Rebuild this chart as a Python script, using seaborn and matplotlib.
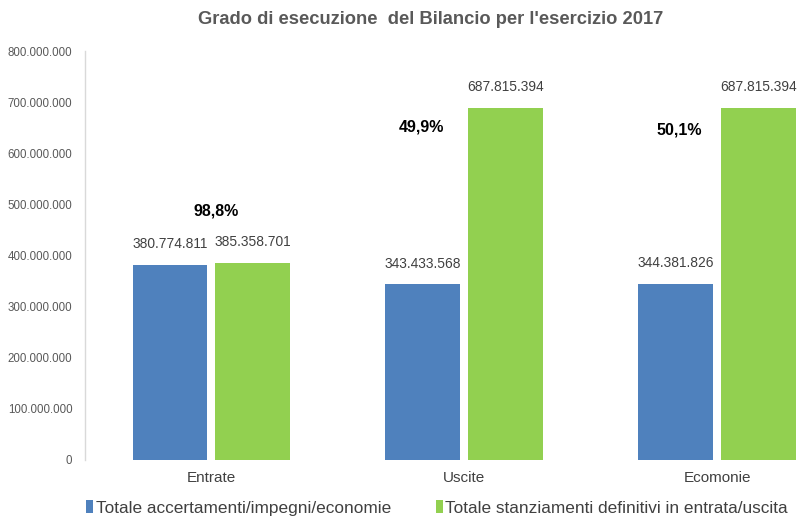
import matplotlib
matplotlib.use("Agg")
import matplotlib.pyplot as plt
import seaborn as sns
import pandas as pd

categories = ["Entrate", "Uscite", "Ecomonie"]
series_names = ["Totale accertamenti/impegni/economie",
                "Totale stanziamenti definitivi in entrata/uscita"]
accertati = [380774811, 343433568, 344381826]
stanziati = [385358701, 687815394, 687815394]
percent_labels = ["98,8%", "49,9%", "50,1%"]
percent_y = [487e6, 652e6, 646e6]
yticks = [0, 100e6, 200e6, 300e6, 400e6, 500e6, 600e6, 700e6, 800e6]
ytick_labels = ["0", "100.000.000", "200.000.000", "300.000.000", "400.000.000",
                "500.000.000", "600.000.000", "700.000.000", "800.000.000"]

df = pd.DataFrame({
    "cat": categories * 2,
    "serie": [series_names[0]] * 3 + [series_names[1]] * 3,
    "val": accertati + stanziati,
})

sns.set_theme(style="white")
plt.rcParams["font.family"] = ["Liberation Sans", "DejaVu Sans"]

fig = plt.figure(figsize=(7.98, 5.17), dpi=100)
ax = fig.add_axes([85 / 798, 1 - 460 / 517, 1 - 85 / 798, (460 - 51) / 517])

colors = ["#4F81BD", "#92D050"]
sns.barplot(data=df, x="cat", y="val", hue="serie", order=categories,
            hue_order=series_names, palette=colors, width=0.655, gap=0.095,
            saturation=1, ax=ax, legend=False, linewidth=0, edgecolor="none")

ax.set_ylim(0, 800e6)
ax.set_xlim(-0.5, 2.32)
ax.set_yticks(yticks)
ax.set_yticklabels(ytick_labels, fontsize=8.3, color="#595959")
ax.tick_params(axis="y", length=0, pad=9)
ax.tick_params(axis="x", length=0, pad=8)
ax.set_xticks(range(len(categories)))
ax.set_xticklabels(categories, fontsize=11, color="#404040")
ax.set_xlabel("")
ax.set_ylabel("")
for s in ["top", "right", "bottom"]:
    ax.spines[s].set_visible(False)
ax.spines["left"].set_color("#d9d9d9")
ax.spines["left"].set_linewidth(1)

for cont in ax.containers:
    for bar in cont:
        h = bar.get_height()
        s = f"{int(round(h)):,}".replace(",", ".")
        ax.annotate(s, (bar.get_x() + bar.get_width() / 2, h),
                    xytext=(0, 10), textcoords="offset points",
                    ha="center", va="bottom", fontsize=9.9, color="#404040")

offsets = [0.02, -0.17, -0.15]
for i, (p, y) in enumerate(zip(percent_labels, percent_y)):
    ax.text(i + offsets[i], y, p, ha="center", va="center", fontsize=11.5,
            fontweight="bold", color="black")

fig.text(431 / 798, 1 - 20 / 517, "Grado di esecuzione  del Bilancio per l'esercizio 2017",
         ha="center", va="center", fontsize=13.2, fontweight="bold", color="#595959")

from matplotlib.patches import Patch
handles = [Patch(facecolor=c, edgecolor="none") for c in colors]
fig.legend(handles, series_names, loc="center", bbox_to_anchor=(437 / 798, 1 - 508 / 517),
           ncol=2, frameon=False, fontsize=12.4, handlelength=0.4, handleheight=0.8,
           handletextpad=0.15, columnspacing=2.6, labelcolor="#404040")

fig.savefig("out.png", dpi=100)
